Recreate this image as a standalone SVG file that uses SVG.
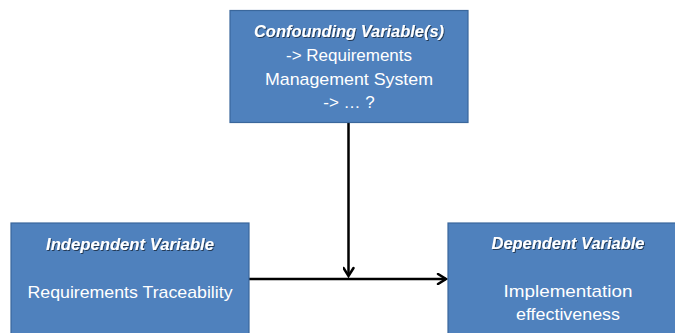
<svg xmlns="http://www.w3.org/2000/svg" width="675" height="333" viewBox="0 0 675 333">
  <defs>
    <style>
      .box { fill: #4F81BD; stroke: #3A679C; stroke-width: 1.2; }
      .txt { fill: #ffffff; font-family: "Liberation Sans", Arial, sans-serif; font-size: 17px; text-anchor: middle; }
      .title { font-style: italic; font-weight: bold; filter: url(#shadow); }
      .wire { fill: none; stroke: #000000; stroke-width: 2.5; }
    </style>
    <filter id="shadow" x="-10%" y="-30%" width="120%" height="160%">
      <feDropShadow dx="1" dy="1" stdDeviation="0.6" flood-color="#000000" flood-opacity="0.55"/>
    </filter>
    <marker id="chevron" viewBox="0 0 12 12" refX="10" refY="6" markerWidth="12" markerHeight="12" markerUnits="userSpaceOnUse" orient="auto">
      <path d="M2,1 L10,6 L2,11" fill="none" stroke="#000000" stroke-width="2.5" stroke-linecap="round" stroke-linejoin="miter"/>
    </marker>
  </defs>

  <!-- connectors -->
  <g id="connectors">
    <line class="wire" x1="348.5" y1="123" x2="348.5" y2="276" marker-end="url(#chevron)"/>
    <line class="wire" x1="249" y1="279" x2="446" y2="279" marker-end="url(#chevron)"/>
  </g>

  <!-- confounding variable node -->
  <g id="confounding">
    <rect class="box" x="230" y="10.5" width="238" height="112"/>
    <text class="txt title" x="349" y="37" textLength="190" lengthAdjust="spacingAndGlyphs">Confounding Variable(s)</text>
    <text class="txt" x="349" y="61" textLength="126" lengthAdjust="spacingAndGlyphs">-&gt; Requirements</text>
    <text class="txt" x="349" y="85" textLength="168" lengthAdjust="spacingAndGlyphs">Management System</text>
    <text class="txt" x="349" y="108">-&gt; … ?</text>
  </g>

  <!-- independent variable node -->
  <g id="independent">
    <rect class="box" x="11" y="223" width="238" height="120"/>
    <text class="txt title" x="130" y="250" textLength="168" lengthAdjust="spacingAndGlyphs">Independent Variable</text>
    <text class="txt" x="130" y="298" textLength="205" lengthAdjust="spacingAndGlyphs">Requirements Traceability</text>
  </g>

  <!-- dependent variable node -->
  <g id="dependent">
    <rect class="box" x="448" y="223" width="240" height="120"/>
    <text class="txt title" x="568" y="249" textLength="153" lengthAdjust="spacingAndGlyphs">Dependent Variable</text>
    <text class="txt" x="568" y="297" textLength="129" lengthAdjust="spacingAndGlyphs">Implementation</text>
    <text class="txt" x="568" y="320" textLength="104" lengthAdjust="spacingAndGlyphs">effectiveness</text>
  </g>
</svg>
